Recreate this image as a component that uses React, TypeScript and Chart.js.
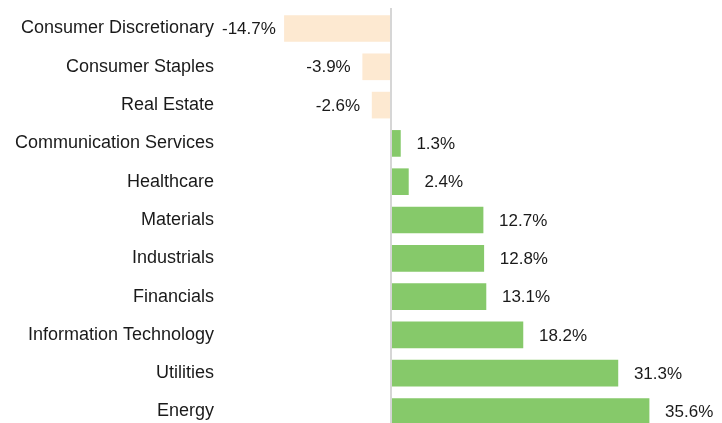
import React, { useEffect, useRef } from "react";
import { Chart, registerables } from "chart.js";

Chart.register(...registerables);

const categories = [
  "Consumer Discretionary",
  "Consumer Staples",
  "Real Estate",
  "Communication Services",
  "Healthcare",
  "Materials",
  "Industrials",
  "Financials",
  "Information Technology",
  "Utilities",
  "Energy",
];
const returns = [-14.7, -3.9, -2.6, 1.3, 2.4, 12.7, 12.8, 13.1, 18.2, 31.3, 35.6];
const positiveColor = "#86c96a";
const negativeColor = "#fde9d1";
const FONT = "'Liberation Sans', Arial, Helvetica, sans-serif";

const valueLabels = {
  id: "valueLabels",
  afterDatasetsDraw(chart: any) {
    const { ctx } = chart;
    const meta = chart.getDatasetMeta(0);
    const xScale = chart.scales.x;
    const zx = xScale.getPixelForValue(0);
    ctx.save();
    // zero line
    ctx.strokeStyle = "#d6d6d6";
    ctx.lineWidth = 2;
    ctx.beginPath();
    ctx.moveTo(zx, 8);
    ctx.lineTo(zx, chart.height);
    ctx.stroke();
    ctx.font = `17px ${FONT}`;
    ctx.fillStyle = "#1a1a1a";
    ctx.textBaseline = "middle";
    meta.data.forEach((bar: any, i: number) => {
      const v = returns[i];
      const text = `${v.toFixed(1)}%`;
      if (v >= 0) {
        ctx.textAlign = "left";
        ctx.fillText(text, bar.x + 16, bar.y + 1);
      } else {
        const w = ctx.measureText(text).width;
        let right = bar.x - 12;
        const minLeft = chart.chartArea.left;
        if (right - w < minLeft) right = minLeft + w;
        ctx.textAlign = "right";
        ctx.fillText(text, right, bar.y + 1);
      }
    });
    ctx.restore();
  },
};

export default function App() {
  const ref = useRef<HTMLCanvasElement | null>(null);
  useEffect(() => {
    document.body.style.margin = "0";
    const chart = new Chart(ref.current as HTMLCanvasElement, {
      type: "bar",
      data: {
        labels: categories,
        datasets: [
          {
            data: returns,
            backgroundColor: returns.map((v) => (v >= 0 ? positiveColor : negativeColor)),
            borderWidth: 0,
            barThickness: 26,
            clip: false as any,
          },
        ],
      },
      options: {
        indexAxis: "y",
        animation: false,
        responsive: false,
        maintainAspectRatio: false,
        layout: { padding: { top: 28.5, bottom: 11.5, left: 0, right: 0 } },
        plugins: { legend: { display: false }, tooltip: { enabled: false } },
        scales: {
          x: {
            display: false,
            min: -23.31,
            max: 45.66,
          },
          y: {
            offset: false,
            grid: { display: false, drawTicks: false },
            border: { display: false },
            ticks: {
              padding: 8,
              color: "#1a1a1a",
              font: { family: FONT, size: 18 },
            },
            afterFit(scale: any) {
              scale.width = 222;
              scale.paddingTop = 0;
              scale.paddingBottom = 0;
            },
          },
        },
      },
      plugins: [valueLabels],
    });
    return () => chart.destroy();
  }, []);
  return (
    <div style={{ width: 722, height: 423 }}>
      <canvas ref={ref} width={722} height={423} style={{ display: "block" }} />
    </div>
  );
}
